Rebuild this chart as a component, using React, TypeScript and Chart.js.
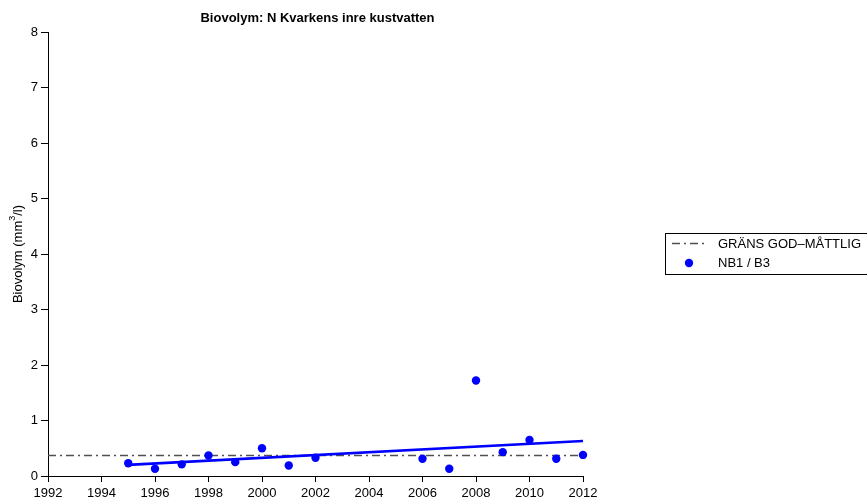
import React, { useEffect, useRef } from "react";
import { Chart, registerables } from "chart.js";

Chart.register(...registerables);

const years = [1995, 1996, 1997, 1998, 1999, 2000, 2001, 2002, 2006, 2007, 2008, 2009, 2010, 2011, 2012];
const biovolume = [0.23, 0.13, 0.21, 0.37, 0.25, 0.5, 0.19, 0.33, 0.31, 0.13, 1.72, 0.43, 0.65, 0.31, 0.38];
const trendYears = [1995, 2012];
const trendValues = [0.2, 0.63];
const thresholdYears = [1992, 2012];
const thresholdValues = [0.37, 0.37];
const xTicks = [1992, 1994, 1996, 1998, 2000, 2002, 2004, 2006, 2008, 2010, 2012];
const yTicks = [0, 1, 2, 3, 4, 5, 6, 7, 8];

const TITLE = "Biovolym: N Kvarkens inre kustvatten";
const LEGEND_THRESHOLD = "GRÄNS GOD–MÅTTLIG";
const LEGEND_SERIES = "NB1 / B3";

const FONT = "Liberation Sans, Arial, Helvetica, sans-serif";
const BLUE = "#0000ff";
const GRAY = "#505050";
const DASH = [8, 4, 2, 4];

const overlay = {
  id: "overlay",
  afterDraw(chart: any) {
    const ctx = chart.ctx;
    const area = chart.chartArea;
    ctx.save();
    // Title
    ctx.fillStyle = "#000";
    ctx.font = `bold 13px ${FONT}`;
    ctx.textAlign = "center";
    ctx.textBaseline = "middle";
    ctx.fillText(TITLE, (area.left + area.right) / 2 + 2, 18);

    // Y axis title with superscript
    ctx.translate(18, (area.top + area.bottom) / 2);
    ctx.rotate(-Math.PI / 2);
    const a = "Biovolym (mm";
    const b = "3";
    const c = "/l)";
    ctx.font = `13px ${FONT}`;
    const wa = ctx.measureText(a).width;
    const wc = ctx.measureText(c).width;
    ctx.font = `9px ${FONT}`;
    const wb = ctx.measureText(b).width;
    const total = wa + wb + wc;
    let x = -total / 2;
    ctx.textAlign = "left";
    ctx.font = `13px ${FONT}`;
    ctx.fillText(a, x, 0);
    x += wa;
    ctx.font = `9px ${FONT}`;
    ctx.fillText(b, x, -5);
    x += wb;
    ctx.font = `13px ${FONT}`;
    ctx.fillText(c, x, 0);
    ctx.restore();

    // Legend
    ctx.save();
    const lx = 665.5, ly = 233.5, lw = 205, lh = 41;
    ctx.strokeStyle = "#000";
    ctx.lineWidth = 1;
    ctx.strokeRect(lx, ly, lw, lh);
    ctx.strokeStyle = GRAY;
    ctx.lineWidth = 1.5;
    ctx.setLineDash(DASH);
    ctx.beginPath();
    ctx.moveTo(672, 243.5);
    ctx.lineTo(707, 243.5);
    ctx.stroke();
    ctx.setLineDash([]);
    ctx.fillStyle = BLUE;
    ctx.beginPath();
    ctx.arc(689, 263, 4.2, 0, Math.PI * 2);
    ctx.fill();
    ctx.fillStyle = "#000";
    ctx.font = `13px ${FONT}`;
    ctx.textAlign = "left";
    ctx.textBaseline = "middle";
    ctx.fillText(LEGEND_THRESHOLD, 718, 244);
    ctx.fillText(LEGEND_SERIES, 718, 263);
    ctx.restore();
  },
};

export default function App() {
  const ref = useRef<HTMLCanvasElement>(null);
  useEffect(() => {
    if (!ref.current) return;
    const chart = new Chart(ref.current, {
      type: "scatter",
      data: {
        datasets: [
          {
            label: "threshold",
            type: "line",
            data: thresholdYears.map((x, i) => ({ x, y: thresholdValues[i] })),
            borderColor: GRAY,
            borderWidth: 1.5,
            borderDash: DASH,
            pointRadius: 0,
            fill: false,
            clip: false,
            order: 3,
          },
          {
            label: "trend",
            type: "line",
            data: trendYears.map((x, i) => ({ x, y: trendValues[i] })),
            borderColor: BLUE,
            borderWidth: 2.6,
            pointRadius: 0,
            fill: false,
            clip: false,
            order: 2,
          },
          {
            label: LEGEND_SERIES,
            data: years.map((x, i) => ({ x, y: biovolume[i] })),
            backgroundColor: BLUE,
            borderColor: BLUE,
            pointRadius: 4.2,
            pointBorderWidth: 0,
            clip: false,
            order: 1,
          },
        ],
      },
      options: {
        animation: false,
        responsive: false,
        maintainAspectRatio: false,
        layout: { padding: { left: 0, top: 32, right: 284, bottom: 0 } },
        plugins: {
          legend: { display: false },
          tooltip: { enabled: false },
          title: { display: false },
        },
        scales: {
          x: {
            type: "linear",
            min: 1992,
            max: 2012,
            afterBuildTicks: (s: any) => {
              s.ticks = xTicks.map((v) => ({ value: v }));
            },
            afterFit: (s: any) => {
              s.height = 28;
            },
            ticks: {
              color: "#000",
              font: { family: FONT, size: 13 },
              padding: 4,
              maxRotation: 0,
              autoSkip: false,
              callback: (v: any) => String(v),
            },
            grid: {
              display: true,
              drawOnChartArea: false,
              drawTicks: true,
              tickLength: 6,
              color: "#000",
            },
            border: { display: true, color: "#000", width: 1 },
          },
          y: {
            type: "linear",
            min: 0,
            max: 8,
            afterBuildTicks: (s: any) => {
              s.ticks = yTicks.map((v) => ({ value: v }));
            },
            afterFit: (s: any) => {
              s.width = 48;
            },
            ticks: {
              color: "#000",
              font: { family: FONT, size: 13 },
              padding: 3,
              autoSkip: false,
            },
            grid: {
              display: true,
              drawOnChartArea: false,
              drawTicks: true,
              tickLength: 7,
              color: "#000",
            },
            border: { display: true, color: "#000", width: 1 },
          },
        },
      },
      plugins: [overlay],
    });
    return () => chart.destroy();
  }, []);
  return (
    <div style={{ position: "fixed", left: 0, top: 0, width: 867, height: 504, background: "#fff" }}>
      <canvas ref={ref} width={867} height={504} style={{ display: "block" }} />
    </div>
  );
}
